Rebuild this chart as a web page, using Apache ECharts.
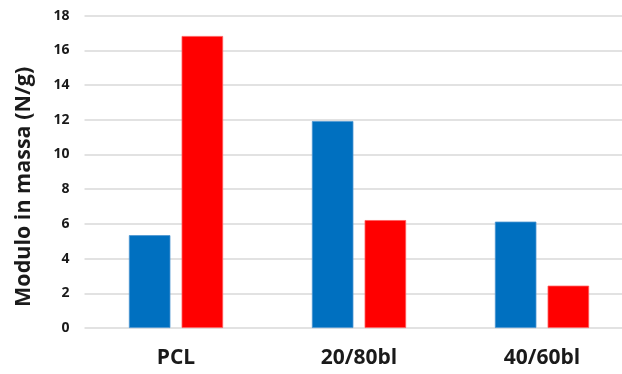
<!DOCTYPE html>
<html>
<head>
<meta charset="utf-8">
<script src="https://cdn.jsdelivr.net/npm/echarts@6/dist/echarts.min.js"></script>
<style>html,body{margin:0;padding:0;background:#fff;}#c{width:622px;height:374px;}</style>
</head>
<body>
<div id="c"></div>
<script>
var categories = ['PCL', '20/80bl', '40/60bl'];
var seriesBlue = [5.35, 11.93, 6.13];
var seriesRed = [16.83, 6.22, 2.44];
var yTicks = { min: 0, max: 18, interval: 2 };
var yName = 'Modulo in massa (N/g)';

var chart = echarts.init(document.getElementById('c'), null, { renderer: 'canvas' });
var font = '"Open Sans", "DejaVu Sans", sans-serif';
chart.setOption({
  animation: false,
  backgroundColor: '#ffffff',
  grid: { left: 84.5, right: -11.5, top: 15.7, bottom: 46, containLabel: false, outerBoundsMode: 'none' },
  xAxis: {
    type: 'category',
    data: categories,
    axisLine: { show: false },
    axisTick: { show: false },
    axisLabel: { color: '#1a1a1a', fontFamily: font, fontWeight: 'bold', fontSize: 21, margin: 20 }
  },
  yAxis: {
    type: 'value',
    min: yTicks.min, max: yTicks.max, interval: yTicks.interval,
    name: yName,
    nameLocation: 'middle',
    nameGap: 50,
    nameTextStyle: { color: '#1a1a1a', fontFamily: font, fontWeight: 'bold', fontSize: 21.5, padding: [0, 30, 0, 0] },
    axisLine: { show: false },
    axisTick: { show: false },
    axisLabel: { color: '#1a1a1a', fontFamily: font, fontWeight: 'bold', fontSize: 14, margin: 15 },
    splitLine: { lineStyle: { color: '#d9d9d9', width: 1.5 } }
  },
  series: [
    { type: 'bar', data: seriesBlue, barWidth: 41.5, barGap: '27%',
      itemStyle: { color: '#0070c0', borderColor: '#4a94d0', borderWidth: 0.8 } },
    { type: 'bar', data: seriesRed, barWidth: 41.5, barGap: '27%',
      itemStyle: { color: '#ff0000', borderColor: '#ff5a5a', borderWidth: 0.8 } }
  ]
});
</script>
</body>
</html>
